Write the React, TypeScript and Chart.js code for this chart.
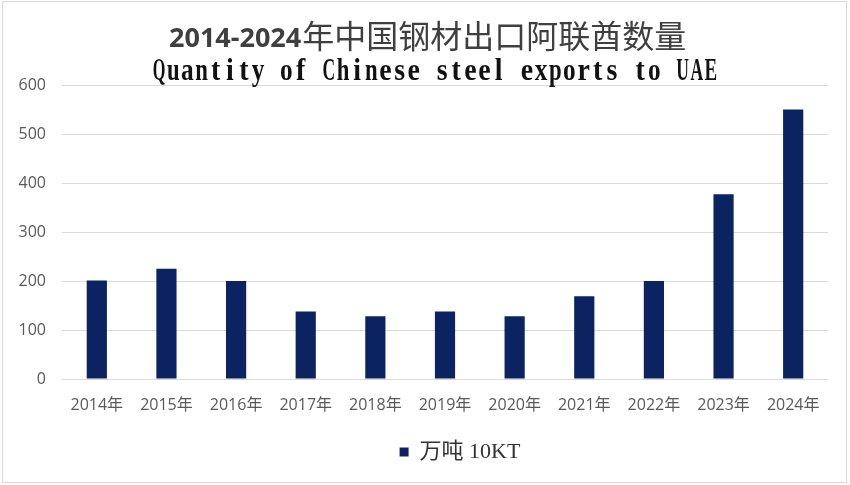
import { useEffect, useRef } from 'react';
import { Chart, registerables } from 'chart.js';

Chart.register(...registerables);

const years = ['2014年', '2015年', '2016年', '2017年', '2018年', '2019年', '2020年', '2021年', '2022年', '2023年', '2024年'];
const exportVolumes = [201, 225, 200, 138, 128, 138, 128, 169, 200, 377, 550];
const seriesLabel = '万吨 10KT';
const titleYears = '2014-2024';
const titleCn = '年中国钢材出口阿联酋数量';
const titleEn = 'Quantity of Chinese steel exports to UAE';
const yMax = 600;
const yStep = 100;

const BAR = '#0b2361';
const GRID = '#d9d9d9';
const TICK = '#595959';

// two title lines with different fonts; english one is set as narrow fixed-pitch glyphs
const titlePlugin = {
  id: 'twoLineTitle',
  afterDraw(chart: Chart) {
    const { ctx } = chart;
    ctx.save();
    ctx.fillStyle = '#3f3f3f';
    ctx.textAlign = 'left';
    ctx.textBaseline = 'alphabetic';
    ctx.font = 'bold 27px "Open Sans", sans-serif';
    ctx.fillText(titleYears, 169, 47);
    const yw = ctx.measureText(titleYears).width;
    ctx.font = '32px "Noto Sans CJK SC", sans-serif';
    ctx.fillText(titleCn, 169 + yw + 1, 48);

    ctx.fillStyle = '#111';
    ctx.textAlign = 'center';
    ctx.font = 'bold 31px "Liberation Serif", serif';
    const pitch = 14.15;
    const x0 = 152;
    for (let i = 0; i < titleEn.length; i++) {
      const ch = titleEn[i];
      if (ch === ' ') continue;
      const w = ctx.measureText(ch).width;
      const sx = Math.min(0.9, (pitch - 1.5) / w);
      ctx.save();
      ctx.translate(x0 + pitch * i + pitch / 2, 80);
      ctx.scale(sx, 1);
      ctx.fillText(ch, 0, 0);
      ctx.restore();
    }
    ctx.restore();
  },
};

// legend sits a bit right of centre in the original
const legendShift = {
  id: 'legendShift',
  afterLayout(chart: Chart) {
    const lg: any = chart.legend;
    if (!lg) return;
    lg.left += 46;
    lg.right += 46;
  },
};

export default function App() {
  const canvasRef = useRef<HTMLCanvasElement | null>(null);

  useEffect(() => {
    document.body.style.margin = '0';
    if (!canvasRef.current) return;
    const ctx = canvasRef.current.getContext('2d');
    if (!ctx) return;

    const chart = new Chart(ctx, {
      type: 'bar',
      data: {
        labels: years,
        datasets: [{
          label: seriesLabel,
          data: exportVolumes,
          backgroundColor: BAR,
          categoryPercentage: 1,
          barPercentage: 0.29,
        }],
      },
      options: {
        responsive: true,
        maintainAspectRatio: false,
        animation: false,
        layout: { padding: { top: 85, right: 22, left: 0, bottom: 12 } },
        plugins: {
          title: { display: false },
          tooltip: { enabled: false },
          legend: {
            position: 'bottom',
            labels: {
              boxWidth: 9,
              boxHeight: 9,
              color: '#333',
              font: { size: 22, family: '"Liberation Serif", "Noto Sans CJK SC", serif' },
            },
          },
        },
        scales: {
          x: {
            grid: { display: false, drawTicks: false },
            border: { display: false },
            ticks: {
              color: TICK,
              padding: 17,
              autoSkip: false,
              maxRotation: 0,
              font: { size: 16, family: '"Open Sans", "Noto Sans CJK SC", sans-serif' },
            },
            afterFit: (s: any) => { s.height = 52; },
          },
          y: {
            min: 0,
            max: yMax,
            grid: { color: GRID, lineWidth: 1, drawTicks: false },
            border: { display: false },
            ticks: {
              stepSize: yStep,
              color: TICK,
              padding: 16,
              font: { size: 16, family: '"Open Sans", sans-serif' },
            },
            afterFit: (s: any) => { s.width = 62; },
          },
        },
      },
      plugins: [titlePlugin, legendShift],
    });

    return () => { chart.destroy(); };
  }, []);

  return (
    <div style={{ position: 'relative', width: 850, height: 485, background: '#fff' }}>
      <canvas ref={canvasRef} />
      <div
        style={{
          position: 'absolute', left: 2, top: 1, width: 845, height: 482,
          border: `1px solid ${GRID}`, boxSizing: 'border-box', pointerEvents: 'none',
        }}
      />
    </div>
  );
}
